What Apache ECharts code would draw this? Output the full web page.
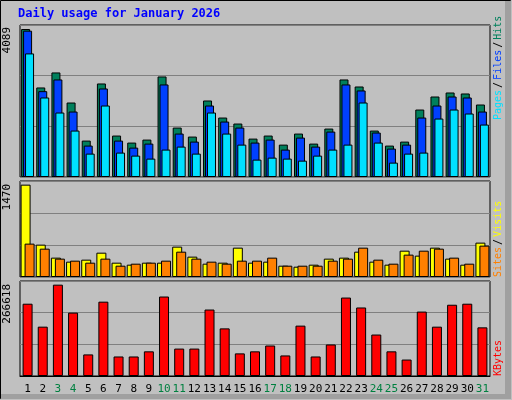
<!DOCTYPE html>
<html><head><meta charset="utf-8">
<script src="https://cdn.jsdelivr.net/npm/echarts@6/dist/echarts.min.js"></script>
<style>html,body{margin:0;padding:0;background:#c0c0c0}#c{width:512px;height:400px}</style>
</head><body><div id="c"></div>
<script>
const days = ['1','2','3','4','5','6','7','8','9','10','11','12','13','14','15','16','17','18','19','20','21','22','23','24','25','26','27','28','29','30','31'];
const weekend = ['3','4','10','11','17','18','24','25','31'];
const hits  = [4089,2474,2889,2058,1006,2584,1145,951,1034,2778,1366,1117,2114,1643,1477,1061,1145,895,1200,923,1338,2695,2501,1283,868,978,1864,2224,2335,2308,2003];
const files = [4043,2372,2695,1809,868,2446,1006,812,923,2557,1200,978,1975,1532,1366,951,1034,757,1089,840,1255,2557,2391,1228,785,895,1643,1975,2224,2197,1809];
const pages = [3415,2197,1781,1283,646,1975,674,591,508,757,840,646,1781,1200,895,480,535,508,452,591,757,895,2058,951,397,646,674,1615,1864,1754,1449];
const visits= [1470,515,308,244,276,387,228,196,228,228,483,324,212,228,467,228,244,180,164,196,292,308,403,244,196,419,340,467,292,196,547];
const sites = [531,451,292,260,228,292,180,212,228,260,403,292,244,212,260,260,308,180,180,180,260,292,467,276,212,356,419,451,308,212,499];
const kbytes= [211000,144000,266618,185000,63000,217000,57000,57000,72000,232000,80000,80000,194000,139000,66000,72000,89000,60000,147000,57000,92000,229000,200000,121000,72000,48000,188000,144000,208000,211000,142000];
const maxLabels = ['4089','1470','266618'];

const F = 'DejaVu Sans Mono';
const grids = [
  {left:20, right:22, top:25, height:152},
  {left:20, right:22, top:181, height:96},
  {left:20, right:22, top:281, height:95}
];
const maxes = [4200, 1528, 277300];
function xa(i){
  return {type:'category', gridIndex:i, data:days,
    axisLine:{show:i===2, lineStyle:{color:'#000'}}, axisTick:{show:false},
    axisLabel:{show:i===2, interval:0, fontFamily:F, fontSize:11, margin:8,
      formatter:v=> weekend.includes(v) ? '{w|'+v+'}' : '{n|'+v+'}',
      rich:{w:{color:'#008040',fontFamily:F,fontSize:11},n:{color:'#000',fontFamily:F,fontSize:11}}}};
}
function ya(i){
  return {type:'value', gridIndex:i, min:0, max:maxes[i], interval:maxes[i]/3,
    axisLabel:{show:false}, axisLine:{show:false}, axisTick:{show:false},
    splitLine:{lineStyle:{color:'#808080', width:1}}};
}
const bs = c=>({color:c, borderColor:'#000', borderWidth:1});
const R = 10;
const opt = {
  backgroundColor:'#c0c0c0', animation:false,
  grid: grids.map(g=>Object.assign({show:true, backgroundColor:'#c0c0c0', borderColor:'#000', borderWidth:1}, g)),
  xAxis:[xa(0),xa(1),xa(2)],
  yAxis:[ya(0),ya(1),ya(2)],
  series:[
    {type:'bar', xAxisIndex:0, yAxisIndex:0, data:hits, barWidth:9, barGap:'-78%', itemStyle:bs('#00805c')},
    {type:'bar', xAxisIndex:0, yAxisIndex:0, data:files, barWidth:9, barGap:'-78%', itemStyle:bs('#0040ff')},
    {type:'bar', xAxisIndex:0, yAxisIndex:0, data:pages, barWidth:9, barGap:'-78%', itemStyle:bs('#00e0ff')},
    {type:'bar', xAxisIndex:1, yAxisIndex:1, data:visits, barWidth:10, barGap:'-60%', itemStyle:bs('#ffff00')},
    {type:'bar', xAxisIndex:1, yAxisIndex:1, data:sites, barWidth:10, barGap:'-60%', itemStyle:bs('#ff8000')},
    {type:'bar', xAxisIndex:2, yAxisIndex:2, data:kbytes, barWidth:10, itemStyle:bs('#ff0000')}
  ],
  graphic:[
    {type:'rect', shape:{x:0.5,y:0.5,width:510,height:398}, style:{fill:'none', stroke:'#000', lineWidth:1}},
    {type:'rect', shape:{x:505,y:1,width:6,height:398}, style:{fill:'#a0a0a0'}},
    {type:'rect', shape:{x:1,y:394,width:510,height:5}, style:{fill:'#a0a0a0'}},
    {type:'text', left:18, top:8, style:{text:'Daily usage for January 2026', fontFamily:F, fontSize:12, fontWeight:'bold', fill:'#0000ff'}},
    {type:'text', x:7, y:27, rotation:Math.PI/2, style:{text:maxLabels[0], fontFamily:F, fontSize:11, fill:'#000', align:'right', verticalAlign:'middle'}},
    {type:'text', x:7, y:184, rotation:Math.PI/2, style:{text:maxLabels[1], fontFamily:F, fontSize:11, fill:'#000', align:'right', verticalAlign:'middle'}},
    {type:'text', x:7, y:284, rotation:Math.PI/2, style:{text:maxLabels[2], fontFamily:F, fontSize:11, fill:'#000', align:'right', verticalAlign:'middle'}},
    {type:'text', x:498, y:120, rotation:Math.PI/2, style:{text:'{p|Pages}{s|/}{f|Files}{s|/}{h|Hits}', fontFamily:F, fontSize:R, align:'left', verticalAlign:'middle',
      rich:{p:{fill:'#00e0ff',fontFamily:F,fontSize:R},f:{fill:'#0040ff',fontFamily:F,fontSize:R},h:{fill:'#00805c',fontFamily:F,fontSize:R},s:{fill:'#000',fontFamily:F,fontSize:R,padding:[0,2]}}}},
    {type:'text', x:498, y:277, rotation:Math.PI/2, style:{text:'{a|Sites}{s|/}{b|Visits}', fontFamily:F, fontSize:R, align:'left', verticalAlign:'middle',
      rich:{a:{fill:'#ff8000',fontFamily:F,fontSize:R},b:{fill:'#ffff00',fontFamily:F,fontSize:R},s:{fill:'#000',fontFamily:F,fontSize:R,padding:[0,2]}}}},
    {type:'text', x:498, y:376, rotation:Math.PI/2, style:{text:'KBytes', fontFamily:F, fontSize:R, fill:'#ff0000', align:'left', verticalAlign:'middle'}}
  ]
};
echarts.init(document.getElementById('c')).setOption(opt);
</script></body></html>
